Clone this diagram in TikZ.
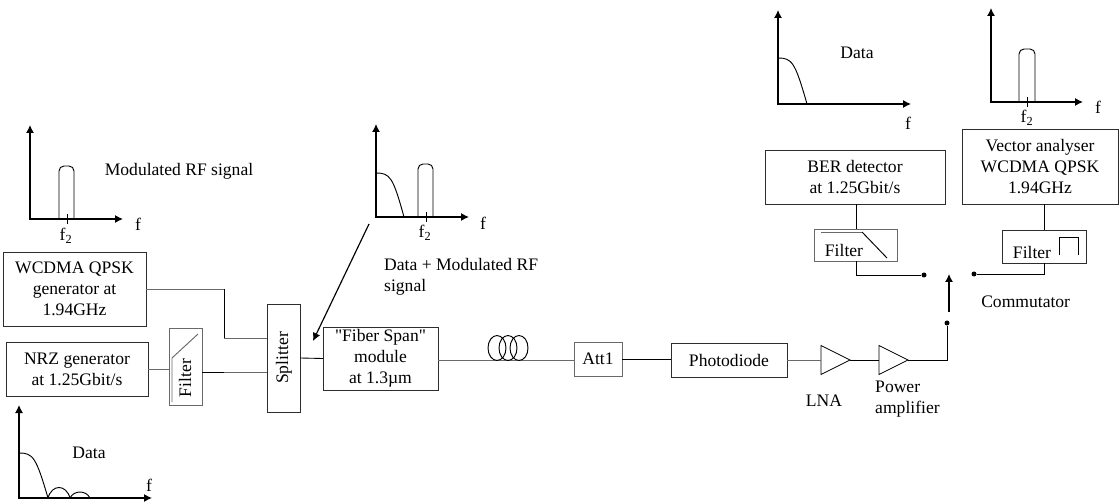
\documentclass[tikz,border=0pt]{standalone}
\usepackage{fontspec}
\setmainfont{Liberation Serif}[Ligatures=TeXOff]
\usetikzlibrary{arrows.meta,shapes.geometric,calc}
\definecolor{inkdark}{RGB}{45,45,45}
\definecolor{softgrey}{RGB}{105,105,105}
\begin{document}
\begin{tikzpicture}[x=0.3mm,y=-0.3mm,font=\fontsize{15}{17.9}\selectfont,
 box/.style 2 args={draw=inkdark,line width=0.7pt,align=center,inner sep=0pt,outer sep=0pt,minimum width=#1*0.3mm,minimum height=#2*0.3mm},
 greybox/.style 2 args={box={#1}{#2},draw=softgrey,line width=0.75pt},
 lbl/.style={inner sep=0pt,align=center},
 lbll/.style={inner sep=0pt,align=left},
 wire/.style={draw=softgrey,line width=0.75pt},
 link/.style={draw=black,line width=0.75pt},
 axis/.style={{Latex[length=2.4mm,width=2.4mm]}-{Latex[length=2.4mm,width=2.4mm]},draw=black,line width=1pt},
 curve/.style={draw=black,line width=0.8pt,rounded corners=1.5mm},
 arr/.style={-{Latex[length=2.4mm,width=2.4mm]},draw=black,line width=1pt},
 amp/.style={draw=black,line width=0.7pt,isosceles triangle,isosceles triangle stretches,inner sep=0pt,outer sep=0pt,minimum width=29*0.3mm,minimum height=29*0.3mm,anchor=lower side},
 pin/.style={circle,fill=black,inner sep=0pt,minimum size=1.5mm}]
\useasboundingbox (0,0) rectangle (1119,502);
% main chain
\node[box={143}{74}] (wcdma) at (74.5,289) {WCDMA QPSK\\generator at\\1.94GHz};
\node[box={142}{54}] (nrz) at (77,369) {NRZ generator\\at 1.25Gbit/s};
\node[greybox={33}{77}] (nrzfilter) at (185.5,366.5) {};
\node[lbl,rotate=90] (nrzfiltertext) at (185,378) {Filter};
\node[box={33}{108}] (splitter) at (283.5,358) {};
\node[lbl,rotate=90] (splittertext) at (284,358) {Splitter};
\node[box={115}{63}] (span) at (380.5,358.5) {"Fiber Span"\\module\\at 1.3µm};
\node[greybox={48}{34}] (att) at (598,359) {Att1};
\node[box={116}{34}] (diode) at (729,360) {Photodiode};
\node[amp] (lna) at (821,360) {};
\node[amp] (power) at (879,360) {};
\node[pin] (pinin) at (947,323) {};
\node[pin] (pinber) at (924,275) {};
\node[pin] (pinvec) at (974,274) {};
\node[box={180}{54}] (ber) at (855,177) {BER detector\\at 1.25Gbit/s};
\node[box={156}{75}] (vector) at (1040,166.5) {Vector analyser\\WCDMA QPSK\\1.94GHz};
\node[greybox={83}{32}] (berfilter) at (855.5,245) {};
\node[lbl] (berfiltertext) at (844,250) {Filter};
\node[box={84}{33}] (vecfilter) at (1044,246.5) {};
\node[lbl] (vecfiltertext) at (1032,252) {Filter};
% free ends
\coordinate (merge) at (224,338);
\coordinate (nrzout) at (202,372);
\coordinate (spanout) at (438,360);
\coordinate (swfoot) at (949,312);
\coordinate (swtip) at (949,274);
\coordinate (mixtail) at (369,224);
\coordinate (mixtip) at (313,341);
\coordinate (bertap) at (856,204);
% connectors
\draw[wire] (wcdma.east) -- (merge |- wcdma.east);
\draw[link] (merge |- wcdma.east) -- (merge);
\draw[wire] (merge) -- (merge -| splitter.west);
\draw[wire] (nrz.east) -- (nrz.east -| nrzfilter.west);
\draw[link] (nrzout) -- ++(22,0);
\draw[wire] ($(nrzout)+(22,0)$) -- (nrzout -| splitter.west);
\draw[link] (splitter.east) -- (span.west);
\draw[wire] (spanout) -- (spanout -| att.west);
\draw[link] (att.east) -- (att.east -| diode.west);
\draw[wire] (diode.east) -- (lna.lower side);
\draw[link] (lna.apex) -- (power.lower side);
\draw[link] (power.apex) -| (pinin);
\draw[arr] (swfoot) -- (swtip);
\draw[arr] (mixtail) -- (mixtip);
\draw[link] (bertap) -- (bertap |- berfilter.north);
\draw[link] (bertap |- berfilter.south) |- (pinber);
\draw[link] (vector.south -| vecfilter.north) -- (vecfilter.north);
\draw[link] (vecfilter.south) |- (pinvec);
% coil
\foreach \cx in {497,508,519}
 \draw[black,line width=0.8pt] (\cx,348) ellipse [x radius=9,y radius=12.5];
% filter sketches
\draw[softgrey,line width=0.8pt] (172,402) -- (172,358) -- (198,334);
\draw[softgrey,line width=0.8pt] (821,232) -- (862,232);
\draw[black,line width=0.8pt] (862,232) -- (887,258);
\draw[black,line width=0.7pt] (1059,255) -- (1059,237) -- (1078,237) -- (1078,255);
% spectrum next to the RF generator
\draw[axis] (30,125) -- (30,219) -- (123,219);
\draw[curve] (59,219) -- (59,166) -- (74,166) -- (74,219);
\draw[link] (67,214) -- (67,224);
\node[lbl] (rfa) at (138,224) {f};
\node[lbl] (rfb) at (66,236) {f\textsubscript{2}};
\node[lbl] (rfname) at (179,171) {Modulated RF signal};
% spectrum below the NRZ generator
\draw[axis] (19,405) -- (19,498) -- (152,498);
\draw[curve] (19,453) .. controls (33,453) and (36,457) .. (48,498);
\draw[curve] (48,498) .. controls (52,484) and (66,484) .. (70,498);
\draw[curve] (70,498) .. controls (74,490) and (86,490) .. (90,498);
\node[lbl] (nrza) at (149,485) {f};
\node[lbl] (nrzname) at (89,453) {Data};
% spectrum of the sum
\draw[axis] (376,124) -- (376,217) -- (469,217);
\draw[curve] (376,173) .. controls (390,173) and (393,177) .. (404,217);
\draw[curve] (418,217) -- (418,164) -- (433,164) -- (433,217);
\draw[link] (426,212) -- (426,222);
\node[lbl] (suma) at (483,223) {f};
\node[lbl] (sumb) at (425,233) {f\textsubscript{2}};
\node[lbll,anchor=west] (sumname) at (384,276.5) {Data + Modulated RF\\signal};
% spectrum above the BER detector
\draw[axis] (778,10) -- (778,104) -- (911,104);
\draw[curve] (778,58) .. controls (792,58) and (795,62) .. (807,104);
\node[lbl] (bera) at (908,123) {f};
\node[lbl] (bername) at (857,53) {Data};
% spectrum above the vector analyser
\draw[axis] (991,8) -- (991,102) -- (1083,102);
\draw[curve] (1019,102) -- (1019,49) -- (1035,49) -- (1035,102);
\draw[link] (1027,97) -- (1027,107);
\node[lbl] (veca) at (1098,107) {f};
\node[lbl] (vecb) at (1027,118) {f\textsubscript{2}};
% labels round the amplifiers
\node[lbl] (lnaname) at (824,401) {LNA};
\node[lbll,anchor=west] (powername) at (875,399.5) {Power\\amplifier};
\node[lbl,anchor=west] (swname) at (981,302) {Commutator};
\end{tikzpicture}
\end{document}
